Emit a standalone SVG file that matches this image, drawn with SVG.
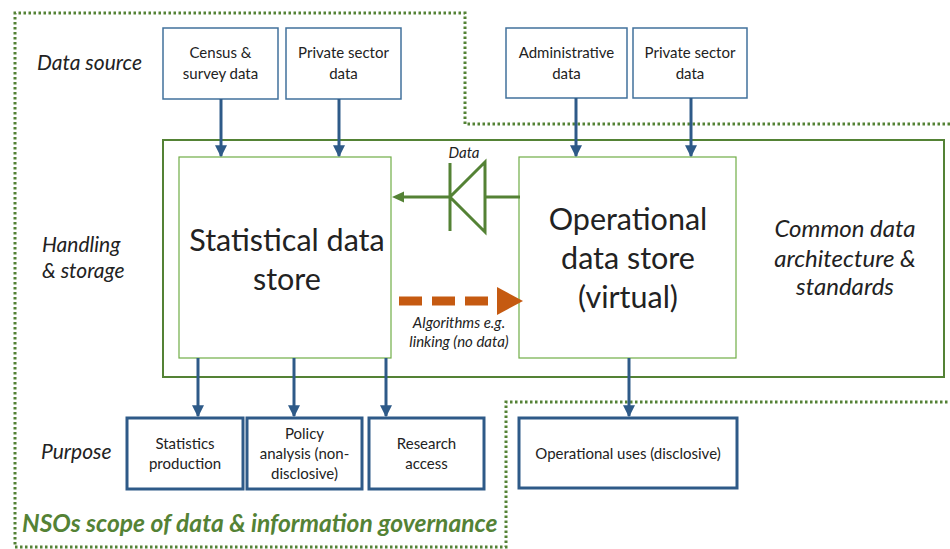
<svg xmlns="http://www.w3.org/2000/svg" width="950" height="549" viewBox="0 0 950 549">
<defs>
<style>
.t{font-family:Lato,"Liberation Sans",sans-serif;fill:#222}
.src{fill:#fff;stroke:#41719C;stroke-width:1.5}
.pur{fill:#fff;stroke:#2E5A88;stroke-width:3}
.store{fill:#fff;stroke:#70AD47;stroke-width:1.2}
.bl{stroke:#2E5A88;stroke-width:3;fill:none}
.s13{font-size:15px}
.lab{font-size:21px;font-style:italic}
.cm{font-size:24px;font-style:italic}
.big{font-size:30.5px}
.it{font-size:15px;font-style:italic}
</style>
<marker id="ab" viewBox="0 0 10 10" refX="9" refY="5" markerWidth="4" markerHeight="4" orient="auto"><path d="M0,0L10,5L0,10z" fill="#2E5A88"/></marker>
</defs>
<rect width="950" height="549" fill="#fff"/>
<path d="M950,124H465V13H15V547H506V402H950" fill="none" stroke="#548235" stroke-width="3" stroke-dasharray="2.5,2.5"/>
<g id="handling"><rect x="163" y="140" width="781" height="237" fill="#fff" stroke="#548235" stroke-width="2"/></g>
<text class="t lab" x="37" y="70">Data source</text>
<text class="t lab" x="42" y="252">Handling</text>
<text class="t lab" x="42" y="278">&amp; storage</text>
<text class="t lab" x="41" y="459">Purpose</text>
<text class="t" x="22" y="532" font-size="24.6" font-weight="bold" font-style="italic" style="fill:#548235">NSOs scope of data &amp; information governance</text>
<g id="common"><text class="t cm" x="845" y="237" text-anchor="middle">Common data</text><text class="t cm" x="845" y="267" text-anchor="middle">architecture &amp;</text><text class="t cm" x="845" y="295" text-anchor="middle">standards</text></g>
<g id="census"><rect class="src" x="163" y="28" width="115" height="71"/><text class="t s13" x="220.5" y="58" text-anchor="middle">Census &amp;</text><text class="t s13" x="220.5" y="79" text-anchor="middle">survey data</text></g>
<g id="private1"><rect class="src" x="286" y="28" width="115" height="71"/><text class="t s13" x="343.5" y="58" text-anchor="middle">Private sector</text><text class="t s13" x="343.5" y="79" text-anchor="middle">data</text></g>
<g id="admin"><rect class="src" x="506" y="28" width="121" height="70"/><text class="t s13" x="566.5" y="58" text-anchor="middle">Administrative</text><text class="t s13" x="566.5" y="79" text-anchor="middle">data</text></g>
<g id="private2"><rect class="src" x="633" y="28" width="114" height="70"/><text class="t s13" x="690" y="58" text-anchor="middle">Private sector</text><text class="t s13" x="690" y="79" text-anchor="middle">data</text></g>
<g id="stat"><rect class="store" x="179" y="157" width="212" height="201"/><text class="t big" x="287" y="251" text-anchor="middle">Statistical data</text><text class="t big" x="287" y="290" text-anchor="middle">store</text></g>
<g id="ops"><rect class="store" x="519" y="157" width="217" height="201"/><text class="t big" x="628" y="230" text-anchor="middle">Operational</text><text class="t big" x="628" y="269" text-anchor="middle">data store</text><text class="t big" x="628" y="308" text-anchor="middle">(virtual)</text></g>
<g id="p1"><rect class="pur" x="127" y="418" width="116" height="71"/><text class="t s13" x="185" y="449" text-anchor="middle">Statistics</text><text class="t s13" x="185" y="469" text-anchor="middle">production</text></g>
<g id="p2"><rect class="pur" x="247" y="418" width="115" height="71"/><text class="t s13" x="304.5" y="439" text-anchor="middle">Policy</text><text class="t s13" x="304.5" y="459" text-anchor="middle">analysis (non-</text><text class="t s13" x="304.5" y="479" text-anchor="middle">disclosive)</text></g>
<g id="p3"><rect class="pur" x="369" y="418" width="115" height="71"/><text class="t s13" x="426.5" y="449" text-anchor="middle">Research</text><text class="t s13" x="426.5" y="469" text-anchor="middle">access</text></g>
<g id="p4"><rect class="pur" x="519" y="418" width="218" height="70"/><text class="t s13" x="628" y="459" text-anchor="middle">Operational uses (disclosive)</text></g>
<g id="connectors">
<path class="bl" d="M221,99V156" marker-end="url(#ab)"/>
<path class="bl" d="M339,99V156" marker-end="url(#ab)"/>
<path class="bl" d="M576,98V156" marker-end="url(#ab)"/>
<path class="bl" d="M691,98V156" marker-end="url(#ab)"/>
<path class="bl" d="M198,358V416" marker-end="url(#ab)"/>
<path class="bl" d="M294,358V416" marker-end="url(#ab)"/>
<path class="bl" d="M386,358V416" marker-end="url(#ab)"/>
<path class="bl" d="M629,358V416" marker-end="url(#ab)"/>
<path d="M520,197H485M485,162V232L450,197Z M450,163V231 M450,197H400" fill="none" stroke="#548235" stroke-width="3" stroke-linejoin="miter"/>
<path d="M392,197L404,191.5V202.5Z" fill="#548235"/>
<text class="t it" x="464" y="158" text-anchor="middle">Data</text>
<path d="M399,301H498" stroke="#C55A11" stroke-width="9" stroke-dasharray="23,10" fill="none"/>
<path d="M497,287L523,301L497,315Z" fill="#C55A11"/>
<text class="t it" x="459" y="328" text-anchor="middle">Algorithms e.g.</text>
<text class="t it" x="459" y="347" text-anchor="middle">linking (no data)</text>
</g>
</svg>
